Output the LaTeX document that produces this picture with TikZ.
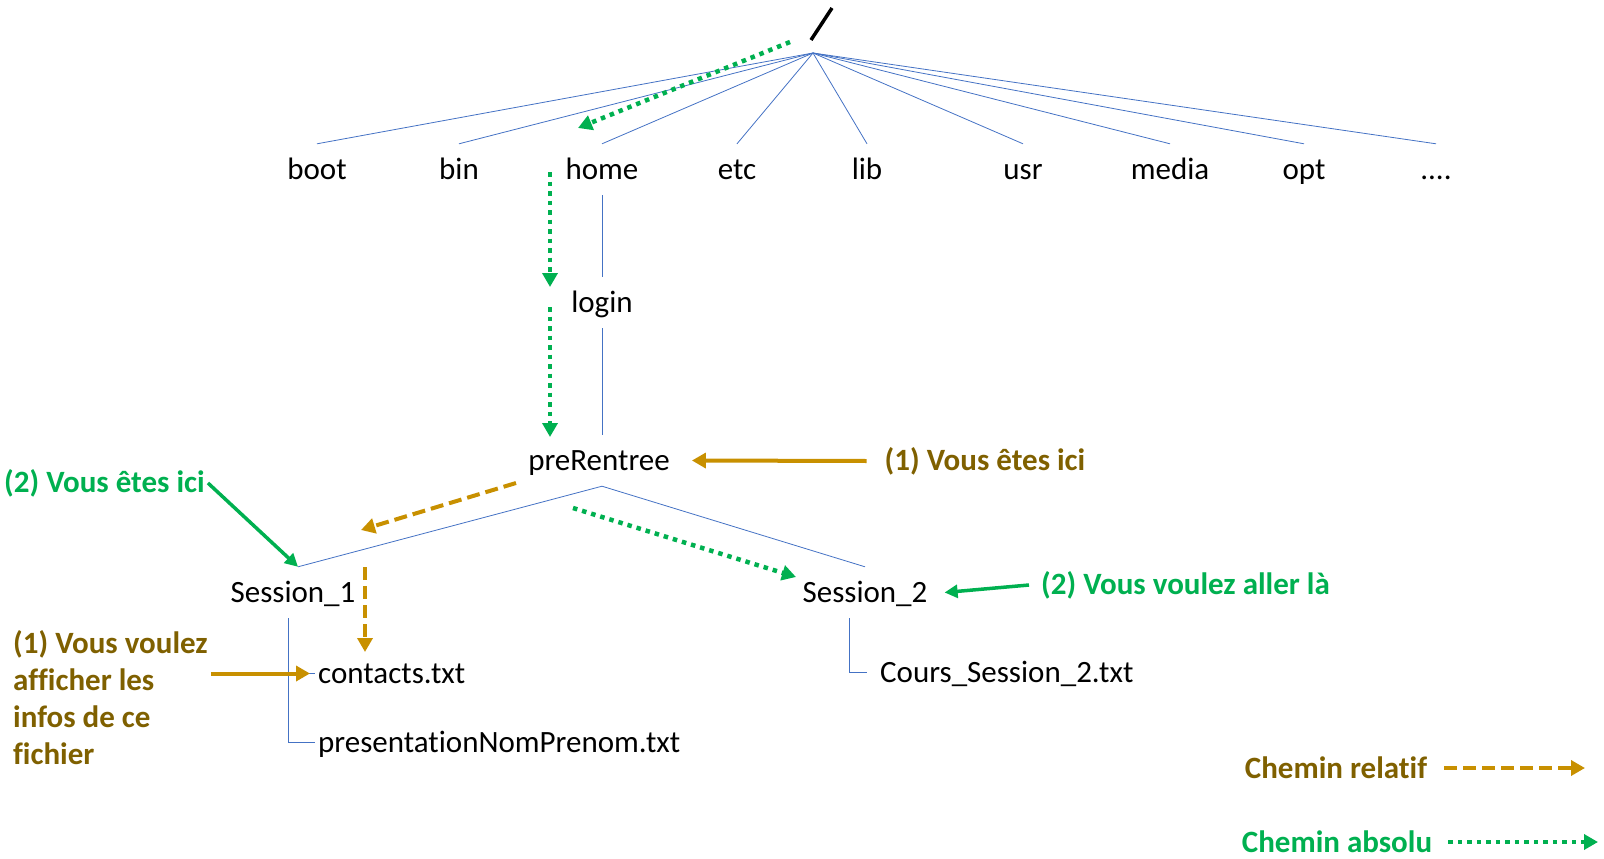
\documentclass[tikz,border=0pt]{standalone}
\usepackage{fontspec}
\setmainfont{Carlito}[Ligatures=NoCommon]
\usepackage{xcolor}
\usepackage{tikz}
\usetikzlibrary{arrows.meta}
\definecolor{treeblue}{HTML}{4472C4}
\definecolor{relorange}{HTML}{C89000}
\definecolor{reltext}{HTML}{7F6000}
\definecolor{absgreen}{HTML}{00B050}
\newcommand{\morelabel}{....}

\begin{document}
\begin{tikzpicture}[x=1pt,y=-1pt,font=\fontsize{31}{37}\selectfont,
  folder/.style={inner xsep=3pt,inner ysep=8pt,text height=27pt,text depth=8pt},
  branch/.style={treeblue,line width=0.8pt},
  relpath/.style={relorange,line width=4pt,dash pattern=on 13pt off 6pt,-{Triangle[length=14pt,width=15pt]}},
  relsolid/.style={relorange,line width=4pt,-{Triangle[length=14pt,width=15pt]}},
  abspath/.style={absgreen,line width=4.5pt,dash pattern=on 4.5pt off 5pt,-{Triangle[length=14pt,width=15pt]}},
  abssolid/.style={absgreen,line width=3.5pt,-{Triangle[length=13pt,width=13pt]}},
  annot/.style={font=\fontsize{31}{37}\selectfont\bfseries,inner sep=3pt}]
  \useasboundingbox (0,0) rectangle (1604,859);
  % racine et premier niveau
  \coordinate (root) at (813,53);
  \draw[line width=3.5pt] ([shift={(-2,-13)}]root) -- ([shift={(19,-45)}]root);
  \foreach \n/\t/\x in {boot/boot/317,bin/bin/459,home/home/602,etc/etc/737,lib/lib/867,usr/usr/1023,media/media/1170,opt/opt/1304,more/\morelabel/1436}{
    \node[folder] (\n) at (\x,169.5) {\t};
    \draw[branch] (root) -- (\n.north);
  }
  % sous-dossiers
  \node[folder] (login) at (602,302.5) {login};
  \node[folder] (prerentree) at (599,460.5) {preRentree};
  \node[folder] (sessiona) at (293,592.5) {Session\_1};
  \node[folder] (sessionb) at (865,592.5) {Session\_2};
  \node[folder,anchor=west] (contacts) at (315,673.5) {contacts.txt};
  \node[folder,anchor=west] (presentation) at (315,742.5) {presentationNomPrenom.txt};
  \node[folder,anchor=west] (cours) at (877,672.5) {Cours\_Session\_2.txt};
  \draw[branch] (home) -- (login);
  \draw[branch] (login.south) -- (login.south |- prerentree.north);
  \draw[branch] ([xshift=5pt]sessiona.north) -- (prerentree.south -| login.south) -- (sessionb.north);
  \draw[branch] ([xshift=-5pt]sessiona.south) |- (contacts.west);
  \draw[branch] ([xshift=-5pt]sessiona.south) |- (presentation.west);
  \draw[branch] ([xshift=-16pt]sessionb.south) |- ([xshift=-10pt]cours.west);
  % annotations
  \node[annot,reltext] (icia) at (985,461) {(1) Vous êtes ici};
  \node[annot,absgreen,anchor=west] (icib) at (1,483) {(2) Vous êtes ici};
  \node[annot,absgreen,anchor=west] (aller) at (1038,585) {(2) Vous voulez aller là};
  \node[annot,reltext,anchor=west,align=left] (afficher) at (10,698) {(1) Vous voulez\\afficher les\\infos de ce\\fichier};
  \draw[relsolid] ([xshift=-15pt]icia.west) -- ([xshift=19pt]prerentree.east);
  \draw[relsolid] (afficher.east |- contacts.west) -- ([xshift=-5pt]contacts.west);
  \draw[abssolid] (icib.east) -- ([xshift=5pt]sessiona.north);
  \draw[abssolid] ([xshift=-9pt]aller.west) -- ([xshift=14pt]sessionb.east);
  % chemins
  \draw[relpath] ([shift={(-83,22.5)}]prerentree.center) -- ([shift={(68,-62.5)}]sessiona.center);
  \draw[relpath] ([shift={(72,-25.5)}]sessiona.center) -- ([shift={(50,-21.5)}]contacts.west);
  \draw[abspath] ([shift={(-23,-11)}]root) -- ([shift={(-24,-41.5)}]home.center);
  \draw[abspath] ([shift={(-52,2.5)}]home.center) -- ([shift={(-52,-15.5)}]login.center);
  \draw[abspath] ([shift={(-52,4.5)}]login.center) -- ([shift={(-49,-23.5)}]prerentree.center);
  \draw[abspath] ([shift={(-26,47.5)}]prerentree.center) -- ([shift={(-69,-15.5)}]sessionb.center);
  % legende
  \node[annot,reltext] (legrel) at (1336,768) {Chemin relatif};
  \node[annot,absgreen] (legabs) at (1337,842) {Chemin absolu};
  \coordinate (legrelend) at (1585,768);
  \coordinate (legabsend) at (1598,842);
  \draw[relpath] ([xshift=14pt]legrel.east) -- (legrelend);
  \draw[abspath] ([xshift=13pt]legabs.east) -- (legabsend);
\end{tikzpicture}
\end{document}
